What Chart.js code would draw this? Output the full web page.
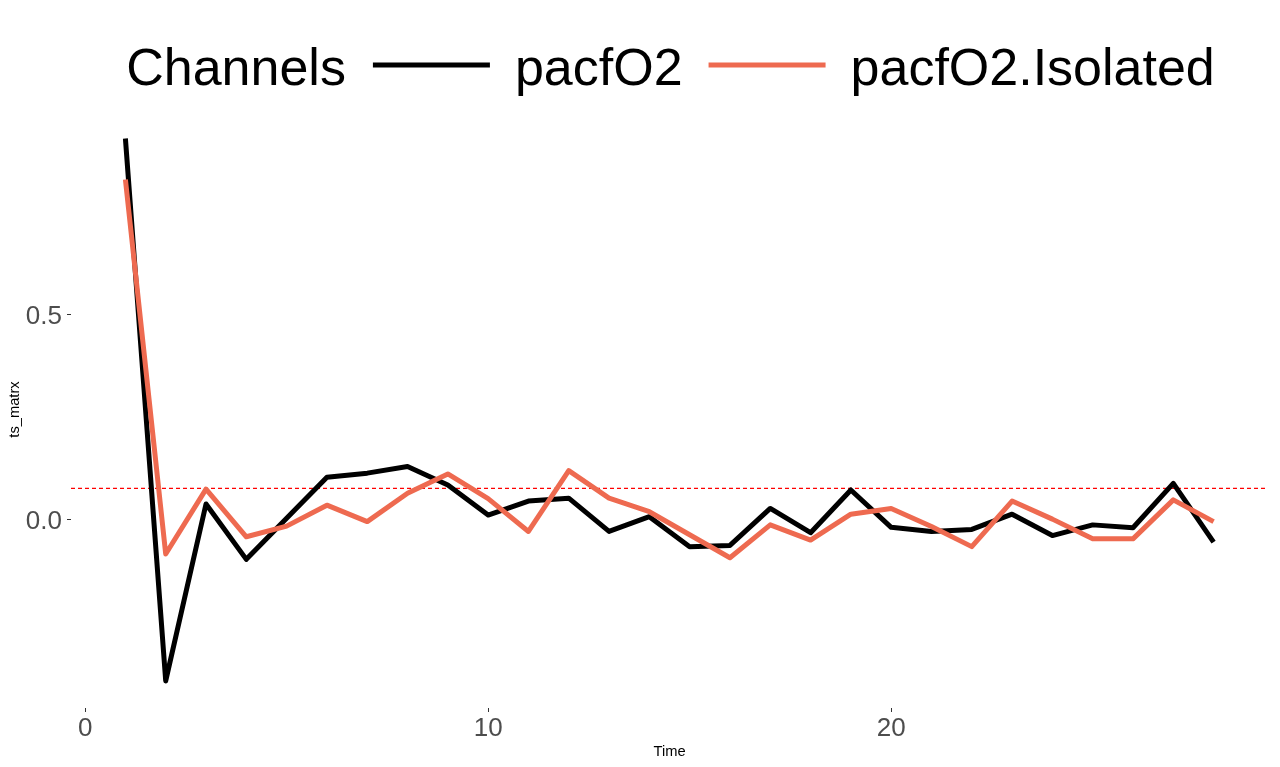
<!DOCTYPE html>
<html>
<head>
<meta charset="utf-8">
<script src="https://cdn.jsdelivr.net/npm/chart.js@4.4.1/dist/chart.umd.min.js"></script>
<style>
  body { margin: 0; background: #fff; }
  canvas { display: block; }
</style>
</head>
<body>
<canvas id="grafico" width="1280" height="767"></canvas>
<script>
// Datos
const retardos = [1, 2, 3, 4, 5, 6, 7, 8, 9, 10, 11, 12, 13, 14, 15, 16, 17, 18, 19, 20, 21, 22, 23, 24, 25, 26, 27, 28];
const pacfO2 = [0.929, -0.392, 0.039, -0.096, 0.004, 0.104, 0.114, 0.130, 0.085, 0.012,
                0.046, 0.053, -0.028, 0.008, -0.065, -0.062, 0.028, -0.031, 0.073, -0.018,
                -0.028, -0.023, 0.014, -0.038, -0.012, -0.019, 0.089, -0.054];
const pacfO2Aislado = [0.829, -0.083, 0.075, -0.041, -0.015, 0.036, -0.004, 0.065, 0.112, 0.052,
                       -0.028, 0.120, 0.053, 0.020, -0.036, -0.092, -0.012, -0.049, 0.014, 0.028,
                       -0.016, -0.065, 0.046, 0.002, -0.046, -0.046, 0.049, -0.004];
const limiteConfianza = 0.077;
const nombresSeries = ["pacfO2", "pacfO2.Isolated"];
const tituloLeyenda = "Channels";
const ticksX = [0, 10, 20];
const ticksY = [0.0, 0.5];
const rangoX = [-0.35, 29.35];
const rangoY = [-0.458, 0.996];

const FUENTE = '"Liberation Sans", Arial, sans-serif';

function aPuntos(valores) {
  return retardos.map((r, i) => ({ x: r, y: valores[i] }));
}

// Leyenda en una sola fila con el título delante, como en ggplot
const leyendaCanales = {
  id: "leyendaCanales",
  afterDraw(chart) {
    const ctx = chart.ctx;
    const area = chart.chartArea;
    const items = chart.data.datasets.filter(d => !d.sinLeyenda);
    const anchoLinea = 117;
    ctx.save();
    ctx.font = "52px " + FUENTE;
    ctx.textBaseline = "alphabetic";
    ctx.fillStyle = "#000";

    let total = ctx.measureText(tituloLeyenda).width + 27;
    items.forEach((d, i) => {
      total += anchoLinea + 25 + ctx.measureText(d.label).width;
      if (i < items.length - 1) total += 26;
    });

    let x = (area.left + area.right) / 2 - total / 2 + 1;
    const base = 85;
    const yLinea = 65;
    ctx.fillText(tituloLeyenda, x, base);
    x += ctx.measureText(tituloLeyenda).width + 27;

    items.forEach(d => {
      ctx.strokeStyle = d.borderColor;
      ctx.lineWidth = 5;
      ctx.lineCap = "butt";
      ctx.beginPath();
      ctx.moveTo(x, yLinea);
      ctx.lineTo(x + anchoLinea, yLinea);
      ctx.stroke();
      x += anchoLinea + 25;
      ctx.fillText(d.label, x, base);
      x += ctx.measureText(d.label).width + 26;
    });
    ctx.restore();
  }
};

document.addEventListener("DOMContentLoaded", () => {
  const ctx = document.getElementById("grafico").getContext("2d");

  new Chart(ctx, {
    type: "line",
    data: {
      datasets: [
        {
          label: "limite",
          sinLeyenda: true,
          data: [{ x: rangoX[0], y: limiteConfianza }, { x: rangoX[1], y: limiteConfianza }],
          borderColor: "#ff0000",
          borderWidth: 1.3,
          borderDash: [4, 3],
          pointRadius: 0,
          order: 3
        },
        {
          label: nombresSeries[0],
          data: aPuntos(pacfO2),
          borderColor: "#000000",
          borderWidth: 5,
          borderJoinStyle: "round",
          borderCapStyle: "butt",
          pointRadius: 0,
          tension: 0,
          order: 2
        },
        {
          label: nombresSeries[1],
          data: aPuntos(pacfO2Aislado),
          borderColor: "#EE6A50",
          borderWidth: 5,
          borderJoinStyle: "round",
          borderCapStyle: "butt",
          pointRadius: 0,
          tension: 0,
          order: 1
        }
      ]
    },
    options: {
      responsive: false,
      animation: false,
      devicePixelRatio: 1,
      layout: {
        padding: { top: 111, right: 12, left: 0, bottom: 0 }
      },
      plugins: {
        legend: { display: false },
        tooltip: { enabled: false }
      },
      scales: {
        x: {
          type: "linear",
          min: rangoX[0],
          max: rangoX[1],
          afterBuildTicks: scale => { scale.ticks = ticksX.map(v => ({ value: v })); },
          afterFit: scale => { scale.height = 59; },
          grid: {
            drawOnChartArea: false,
            drawTicks: true,
            tickLength: 4,
            tickWidth: 1,
            tickColor: "#333333"
          },
          border: { display: false },
          ticks: {
            padding: 1,
            color: "#4D4D4D",
            font: { family: FUENTE, size: 26 },
            maxRotation: 0,
            callback: v => String(v)
          },
          title: {
            display: true,
            text: "Time",
            color: "#000",
            font: { family: FUENTE, size: 14.7 },
            padding: { top: 0, bottom: 6 }
          }
        },
        y: {
          type: "linear",
          min: rangoY[0],
          max: rangoY[1],
          afterBuildTicks: scale => { scale.ticks = ticksY.map(v => ({ value: v })); },
          afterFit: scale => { scale.width = 71; },
          grid: {
            drawOnChartArea: false,
            drawTicks: true,
            tickLength: 4,
            tickWidth: 1,
            tickColor: "#333333"
          },
          border: { display: false },
          ticks: {
            padding: 5,
            labelOffset: 2,
            color: "#4D4D4D",
            font: { family: FUENTE, size: 26 },
            callback: v => Number(v).toFixed(1)
          },
          title: {
            display: true,
            text: "ts_matrx",
            color: "#000",
            font: { family: FUENTE, size: 14.7 },
            padding: { top: 6, bottom: 0 }
          }
        }
      }
    },
    plugins: [leyendaCanales]
  });
});
</script>
</body>
</html>
